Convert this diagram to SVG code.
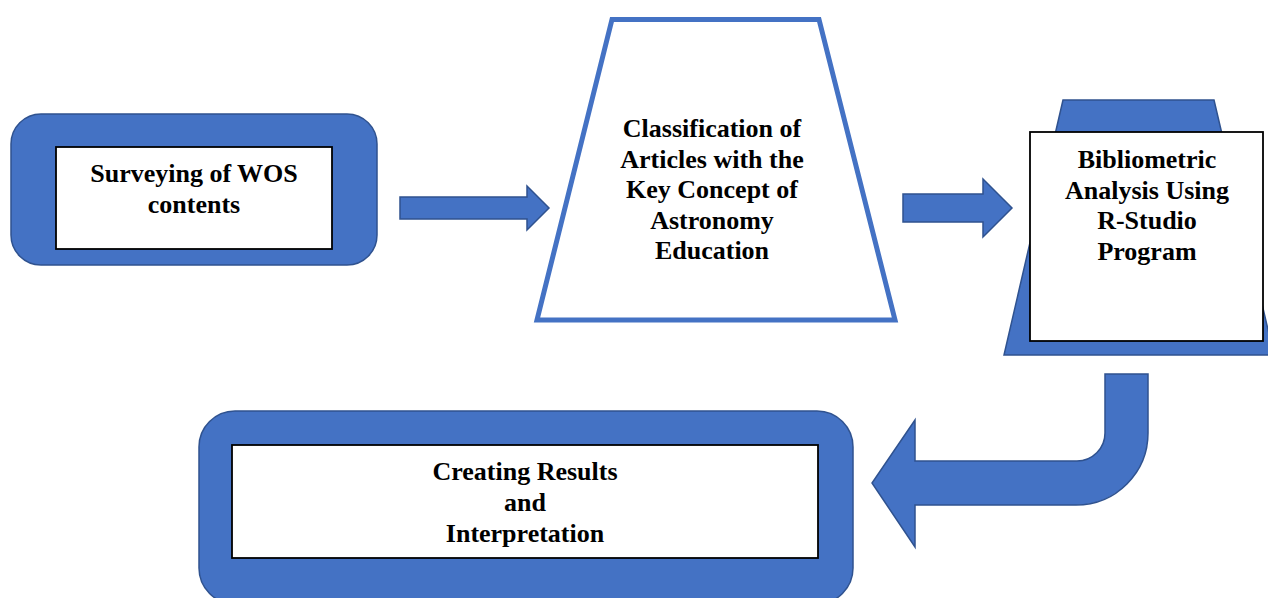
<svg xmlns="http://www.w3.org/2000/svg" width="1268" height="598" viewBox="0 0 1268 598">
<style>
.blue{fill:#4472C4;stroke:#2F528F;stroke-width:1.5}
.inner{fill:#ffffff;stroke:#000000;stroke-width:1.8}
.t{font-family:"Liberation Serif","Times New Roman",serif;font-weight:bold;font-size:26px;fill:#000;text-anchor:middle}
</style>
<rect width="1268" height="598" fill="#ffffff"/>
<g id="node-surveying">
<rect class="blue" x="11" y="114" width="366" height="151" rx="30" ry="30"/>
<rect class="inner" x="56" y="147" width="276" height="102"/>
<text class="t" x="194" y="182">Surveying of WOS</text>
<text class="t" x="194" y="213">contents</text>
</g>
<g id="node-classification">
<polygon points="612,19.5 819,19.5 895,320 537,320" fill="#ffffff" stroke="#4472C4" stroke-width="5"/>
<text class="t" x="712" y="137">Classification of</text>
<text class="t" x="712" y="167.5">Articles with the</text>
<text class="t" x="712" y="198">Key Concept of</text>
<text class="t" x="712" y="228.5">Astronomy</text>
<text class="t" x="712" y="259">Education</text>
</g>
<g id="node-bibliometric">
<polygon class="blue" points="1063,100 1214,100 1274,355 1004,355"/>
<rect class="inner" x="1030" y="132" width="233" height="209"/>
<text class="t" x="1147" y="168">Bibliometric</text>
<text class="t" x="1147" y="198.5">Analysis Using</text>
<text class="t" x="1147" y="229">R-Studio</text>
<text class="t" x="1147" y="259.5">Program</text>
</g>
<g id="node-results">
<rect class="blue" x="199" y="411" width="654" height="193" rx="36" ry="36"/>
<rect class="inner" x="232" y="445" width="586" height="113"/>
<text class="t" x="525" y="480">Creating Results</text>
<text class="t" x="525" y="511">and</text>
<text class="t" x="525" y="542">Interpretation</text>
</g>
<g id="connectors">
<polygon class="blue" points="400,197 527,197 527,186 549,208 527,230 527,219 400,219"/>
<polygon class="blue" points="903,194 983,194 983,179 1012,208 983,237 983,222 903,222"/>
<path class="blue" d="M1105,374 L1148,374 L1148,433 A72,72 0 0 1 1076,505 L915,505 L915,547 L872,483 L915,420 L915,461 L1077,461 A28,28 0 0 0 1105,433 Z"/>
</g>
</svg>
